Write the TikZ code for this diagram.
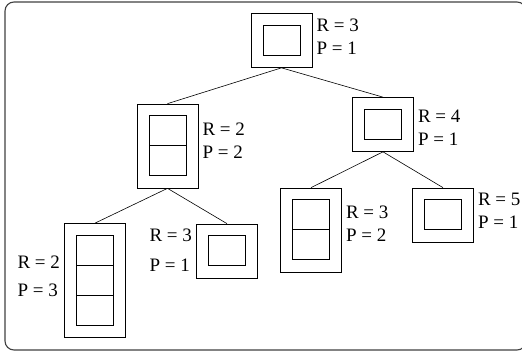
\documentclass[tikz,border=0pt]{standalone}
\usepackage{fontspec}
\setmainfont{Liberation Serif}
\usetikzlibrary{positioning}

\tikzset{
  outerbox/.style={draw, line width=0.7pt, minimum width=61pt, inner sep=0pt},
  cellline/.style={line width=0.7pt},
  rpinfo/.style={align=left, inner sep=0pt, font=\fontsize{19}{23}\selectfont},
  treeedge/.style={line width=0.6pt},
}

% outer box with a column of #3 cells inside
\newcommand{\cellstack}[3]{%
  \node[outerbox, minimum height={30*#3+24}] (#1) at (#2) {};
  \foreach \i in {1,...,#3}
    \draw[cellline] ([shift={(-18.5,{-12-30*(\i-1)})}]#1.north) rectangle ++(37,-30);
}

\begin{document}
\begin{tikzpicture}[x=1pt, y=1pt]
  \useasboundingbox (0,0) rectangle (522,352);

  % Frame
  \draw[gray!50!black, line width=1.1pt, rounded corners=9pt] (5,2) rectangle (526,350);

  % Tree nodes
  \cellstack{root}{281.5,311.5}{1}
  \cellstack{lft}{167.5,206}{2}
  \cellstack{rgt}{383,227.5}{1}
  \cellstack{lftlft}{95,71.5}{3}
  \cellstack{lftrgt}{227,101}{1}
  \cellstack{rgtlft}{311,122}{2}
  \cellstack{rgtrgt}{443,137}{1}

  % Edges
  \draw[treeedge] (root.south) -- (lft.north);
  \draw[treeedge] (root.south) -- (rgt.north);
  \draw[treeedge] (lft.south) -- (lftlft.north);
  \draw[treeedge] (lft.south) -- (lftrgt.north);
  \draw[treeedge] (rgt.south) -- (rgtlft.north);
  \draw[treeedge] (rgt.south) -- (rgtrgt.north);

  % R / P values
  \node[rpinfo, anchor=west] (rootinfo) at ([xshift=4pt, yshift=3.5pt]root.east) {R = 3\\P = 1};
  \node[rpinfo, anchor=west] (lftinfo) at ([xshift=4pt, yshift=5.5pt]lft.east) {R = 2\\P = 2};
  \node[rpinfo, anchor=west] (rgtinfo) at ([xshift=4pt, yshift=-3.5pt]rgt.east) {R = 4\\P = 1};
  \node[rpinfo, anchor=east] (lftlftinfo) at ([xshift=-4pt, yshift=4.5pt]lftlft.west) {R = 2\\[5pt]P = 3};
  \node[rpinfo, anchor=east] (lftrgtinfo) at ([xshift=-4pt, yshift=1pt]lftrgt.west) {R = 3\\[7pt]P = 1};
  \node[rpinfo, anchor=west] (rgtlftinfo) at ([xshift=4pt, yshift=6.5pt]rgtlft.east) {R = 3\\P = 2};
  \node[rpinfo, anchor=west] (rgtrgtinfo) at ([xshift=4pt, yshift=4pt]rgtrgt.east) {R = 5\\P = 1};
\end{tikzpicture}
\end{document}
